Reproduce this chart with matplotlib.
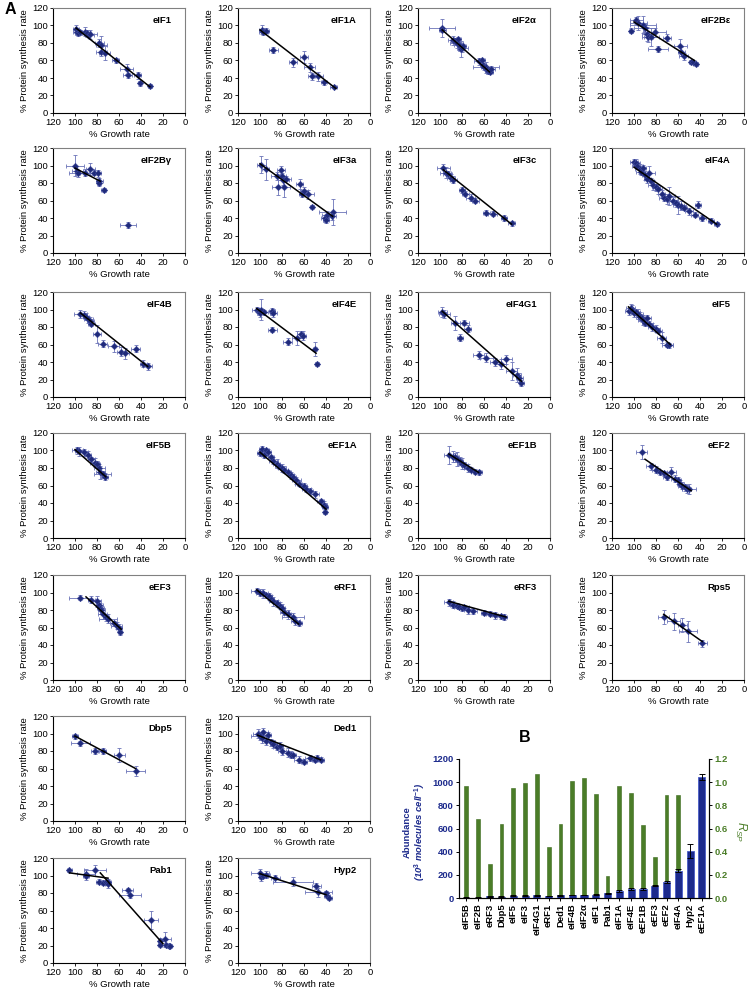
import matplotlib
matplotlib.use('Agg')
import matplotlib.pyplot as plt
import numpy as np

plt.rcParams['font.family'] = ['Liberation Sans', 'DejaVu Sans']
plt.rcParams['mathtext.fontset'] = 'custom'
plt.rcParams['mathtext.rm'] = 'Liberation Sans'
plt.rcParams['mathtext.it'] = 'Liberation Sans:italic'
plt.rcParams['mathtext.bf'] = 'Liberation Sans:bold'

# ---------------- Panel A data: (growth %, synthesis %, x error, y error) ----------------
eIF1_pts = [(99,96,3,5),(98,93,4,4),(97,91,3,3),(95,92,4,3),(91,93,5,5),(89,91,4,4),(87,89,4,3),
            (86,90,6,5),(78,80,4,5),(76,78,5,10),(76,70,5,5),(73,68,5,8),(63,60,3,3),(53,50,6,6),
            (52,43,4,3),(43,43,3,4),(41,34,2,3),(32,31,2,2)]
eIF1_fit = [[(99,97),(32,30)]]
eIF1A_pts = [(98,95,3,5),(97,93,4,4),(95,94,3,3),(88,72,4,3),(70,58,4,5),(60,64,4,7),(55,52,5,5),
             (53,42,3,4),(47,42,4,5),(42,35,3,3),(33,30,3,2)]
eIF1A_fit = [[(100,95),(31,28)]]
eIF2a_pts = [(98,97,12,10),(98,95,3,3),(88,83,5,5),(86,82,4,4),(85,80,6,6),(84,84,3,3),(83,78,4,6),
             (82,76,3,5),(81,73,3,9),(80,74,5,4),(79,76,3,3),(65,59,4,4),(62,60,3,3),(61,55,3,4),
             (60,53,3,4),(58,52,12,6),(57,50,3,3),(56,48,3,4),(55,47,3,3),(54,50,4,4)]
eIF2a_fit = [[(98,95),(55,47)]]
eIF2Be_pts = [(103,94,2,3),(98,106,6,4),(96,103,8,8),(92,101,12,10),(90,97,10,5),(88,90,5,8),
              (87,87,4,6),(85,87,8,10),(81,92,10,5),(78,73,9,3),(70,86,4,4),(58,77,6,7),(57,70,3,5),
              (55,65,4,4),(48,58,2,2),(46,58,2,2),(44,56,2,2)]
eIF2Be_fit = [[(100,104),(45,60)]]
eIF2Bg_pts = [(100,100,8,12),(98,94,5,5),(97,91,8,4),(91,92,4,4),(86,96,4,7),(83,92,3,3),(79,91,3,4),
              (78,82,3,4),(78,80,2,3),(74,72,2,2),(52,32,7,3)]
eIF2Bg_fit = [[(100,97),(77,82)]]
eIF3a_pts = [(99,101,4,10),(95,96,3,12),(85,88,5,5),(84,76,5,10),(81,95,4,5),(80,88,4,4),(79,83,5,5),
             (78,76,5,12),(76,85,4,3),(64,79,3,6),(62,68,3,4),(60,71,4,4),(56,67,5,5),(53,53,2,2),
             (41,40,4,4),(40,38,3,4),(39,44,5,4),(34,47,12,15),(35,42,4,4)]
eIF3a_fit = [[(100,102),(34,42)]]
eIF3c_pts = [(97,97,6,5),(95,92,5,6),(93,90,4,4),(90,86,4,4),(88,84,3,4),(80,72,3,3),(77,68,3,3),
             (72,63,4,4),(68,60,3,3),(58,46,3,3),(52,45,4,3),(42,40,3,3),(35,34,3,3)]
eIF3c_fit = [[(97,95),(35,33)]]
eIF4A_pts = [(100,104,4,3),(98,103,3,4),(97,100,5,4),(95,96,4,6),(94,93,4,4),(92,97,3,4),(90,89,3,5),
             (88,85,3,5),(86,91,5,8),(85,82,3,4),(83,78,4,6),(80,75,4,4),(78,73,3,5),(75,68,3,4),
             (73,63,4,4),(70,62,3,6),(68,65,5,10),(65,60,4,4),(62,57,3,4),(60,55,5,10),(57,54,4,5),
             (55,52,3,3),(50,48,4,4),(45,44,3,3),(42,55,3,4),(38,40,3,3),(30,37,3,3),(25,33,2,2)]
eIF4A_fit = [[(100,98),(25,33)]]
eIF4B_pts = [(95,95,6,5),(92,94,3,4),(90,92,3,4),(88,89,4,4),(86,87,3,4),(85,84,3,3),(80,72,4,10),
             (75,61,4,4),(65,58,5,6),(58,52,4,5),(55,50,4,6),(45,55,4,4),(38,38,3,4),(34,35,4,4)]
eIF4B_fit = [[(95,96),(34,35)]]
eIF4E_pts = [(103,100,4,3),(101,98,3,4),(100,96,3,5),(99,100,2,12),(96,97,3,3),(89,98,3,4),(88,96,3,5),
             (89,77,4,3),(75,63,4,4),(66,68,5,8),(63,72,3,4),(61,70,3,5),(50,55,2,8),(48,38,2,2)]
eIF4E_fit = [[(103,101),(49,50)]]
eIF4G1_pts = [(98,97,4,6),(96,95,5,5),(86,85,4,8),(82,68,3,4),(78,85,4,3),(75,78,3,4),(65,48,5,5),
              (58,45,6,5),(50,40,5,5),(45,38,5,6),(40,43,5,5),(35,30,5,10),(30,25,4,8),(28,22,3,5),
              (26,16,2,3)]
eIF4G1_fit = [[(98,98),(26,18)]]
eIF5_pts = [(105,98,3,4),(103,102,4,4),(102,100,3,5),(100,96,5,4),(98,97,3,3),(96,95,4,6),(95,92,3,5),
            (93,90,3,4),(92,88,4,6),(90,85,3,4),(88,90,3,4),(86,84,3,3),(84,80,3,5),(80,78,4,4),
            (78,76,3,3),(75,68,4,6),(70,60,5,3),(68,59,3,3)]
eIF5_fit = [[(105,103),(67,60)]]
eIF5B_pts = [(98,100,5,4),(96,99,4,5),(92,98,4,4),(88,95,3,4),(85,90,3,3),(82,86,4,5),(80,85,3,3),
             (78,80,5,5),(77,75,4,7),(75,73,8,4),(73,70,3,4)]
eIF5B_fit = [[(100,101),(72,70)]]
eEF1A_pts = [(100,97,3,3),(98,102,3,3),(96,95,3,4),(95,100,3,3),(93,98,3,4),(90,92,3,3),(88,88,4,4),
             (85,85,3,5),(83,82,3,3),(80,80,4,4),(78,78,3,4),(75,75,3,3),(72,72,3,4),(70,70,3,3),
             (67,66,4,4),(65,62,3,3),(60,60,3,3),(58,56,4,3),(55,54,3,3),(50,50,4,4),(45,42,3,3),
             (42,38,3,4),(41,35,3,5),(41,30,2,3)]
eEF1A_fit = [[(100,98),(40,33)]]
eEF1B_pts = [(92,95,4,10),(88,93,4,6),(86,92,3,5),(85,90,3,8),(82,88,3,5),(80,85,4,6),(78,83,3,4),
             (75,80,3,4),(72,78,3,3),(68,76,4,3),(65,75,3,3)]
eEF1B_fit = [[(92,96),(65,75)]]
eEF2_pts = [(93,98,5,8),(85,82,4,4),(80,78,4,4),(76,75,3,3),(73,74,3,3),(70,70,4,4),(66,76,4,5),
            (63,68,3,4),(60,66,3,4),(58,62,3,4),(56,60,4,4),(54,58,3,4),(52,56,4,5),(50,56,6,6)]
eEF2_fit = [[(90,90),(48,54)]]
eEF3_pts = [(95,94,10,3),(85,92,3,4),(80,90,4,6),(78,86,3,5),(77,82,3,6),(76,80,3,5),(75,76,4,6),
            (72,72,3,4),(70,70,8,5),(65,65,3,3),(62,62,5,4),(60,60,3,4),(59,55,2,4)]
eEF3_fit = [[(90,95),(58,58)]]
eRF1_pts = [(103,102,5,3),(100,100,4,4),(97,99,4,5),(95,97,3,3),(92,96,3,4),(90,93,3,4),(88,90,4,5),
            (85,88,3,4),(82,85,3,4),(80,82,3,5),(78,78,4,4),(75,75,3,5),(70,72,10,5),(68,67,4,4),
            (65,65,3,3)]
eRF1_fit = [[(103,103),(65,64)]]
eRF3_pts = [(92,89,4,4),(88,86,3,4),(85,85,3,3),(83,84,4,3),(80,82,3,3),(78,83,4,3),(75,80,3,4),
            (70,79,4,3),(60,77,3,3),(55,76,3,3),(50,74,3,4),(45,73,3,3),(42,72,3,3)]
eRF3_fit = [[(92,90),(40,72)]]
Rps5_pts = [(73,72,5,8),(64,67,6,10),(56,63,4,8),(51,56,8,12),(38,42,4,4)]
Rps5_fit = [[(73,75),(38,44)]]
Dbp5_pts = [(100,97,3,3),(95,89,9,3),(82,80,3,3),(75,80,3,3),(60,75,5,8),(45,57,9,6)]
Dbp5_fit = [[(100,97),(45,60)]]
Ded1_pts = [(102,100,4,5),(100,97,8,4),(98,95,3,6),(97,102,4,4),(95,92,3,5),(93,98,3,4),(90,90,4,4),
            (88,88,3,5),(85,85,3,4),(82,86,3,4),(80,80,4,4),(75,78,4,5),(72,76,3,4),(70,75,3,3),
            (65,70,4,4),(60,68,3,3),(55,72,4,3),(50,70,3,3),(48,72,3,3),(45,70,3,3)]
Ded1_fit = [[(102,98),(45,70)]]
Pab1_pts = [(105,106,2,2),(90,102,8,5),(90,99,3,4),(82,106,10,6),(78,93,3,3),(75,92,3,3),(72,93,4,4),
            (70,93,3,3),(70,90,3,4),(52,83,5,3),(50,78,10,4),(31,49,6,10),(23,25,2,4),(23,21,2,2),
            (18,27,5,9),(17,21,2,2),(15,19,2,2),(14,20,2,2)]
Pab1_fit = [[(105,103),(70,97)], [(77,103),(20,22)]]
Hyp2_pts = [(100,103,8,5),(99,98,2,4),(97,100,4,3),(95,101,4,4),(86,97,4,4),(70,93,18,5),(49,88,4,3),
            (47,81,12,5),(40,80,2,2),(39,77,3,3),(37,74,2,2)]
Hyp2_fit = [[(100,102),(40,78)]]

panel_rows = [
    [("eIF1", eIF1_pts, eIF1_fit), ("eIF1A", eIF1A_pts, eIF1A_fit),
     ("eIF2\u03b1", eIF2a_pts, eIF2a_fit), ("eIF2B\u03b5", eIF2Be_pts, eIF2Be_fit)],
    [("eIF2B\u03b3", eIF2Bg_pts, eIF2Bg_fit), ("eIF3a", eIF3a_pts, eIF3a_fit),
     ("eIF3c", eIF3c_pts, eIF3c_fit), ("eIF4A", eIF4A_pts, eIF4A_fit)],
    [("eIF4B", eIF4B_pts, eIF4B_fit), ("eIF4E", eIF4E_pts, eIF4E_fit),
     ("eIF4G1", eIF4G1_pts, eIF4G1_fit), ("eIF5", eIF5_pts, eIF5_fit)],
    [("eIF5B", eIF5B_pts, eIF5B_fit), ("eEF1A", eEF1A_pts, eEF1A_fit),
     ("eEF1B", eEF1B_pts, eEF1B_fit), ("eEF2", eEF2_pts, eEF2_fit)],
    [("eEF3", eEF3_pts, eEF3_fit), ("eRF1", eRF1_pts, eRF1_fit),
     ("eRF3", eRF3_pts, eRF3_fit), ("Rps5", Rps5_pts, Rps5_fit)],
    [("Dbp5", Dbp5_pts, Dbp5_fit), ("Ded1", Ded1_pts, Ded1_fit)],
    [("Pab1", Pab1_pts, Pab1_fit), ("Hyp2", Hyp2_pts, Hyp2_fit)],
]

# ---------------- Panel B data ----------------
B_cats = ["eIF5B", "eIF2B", "eRF3", "Dbp5", "eIF5", "eIF3", "eIF4G1", "eRF1", "Ded1", "eIF4B",
          "eIF2\u03b1", "eIF1", "Pab1", "eIF1A", "eIF4E", "eEF1B", "eEF3", "eEF2", "eIF4A", "Hyp2", "eEF1A"]
B_abundance = [3, 4, 14, 12, 20, 20, 23, 17, 23, 26, 26, 29, 40, 60, 77, 77, 106, 140, 237, 405, 1043]
B_abundance_err = [2, 2, 3, 3, 4, 4, 4, 4, 4, 4, 4, 5, 5, 6, 6, 6, 6, 8, 15, 62, 28]
B_rsp = [0.97, 0.68, 0.29, 0.64, 0.95, 0.99, 1.07, 0.44, 0.64, 1.01, 1.04, 0.90, 0.19, 0.97,
         0.91, 0.63, 0.35, 0.89, 0.89, 0.33, 1.00]

W, H = 748, 991
fig = plt.figure(figsize=(W / 100, H / 100), dpi=100)

def px_axes(left, top, width, height):
    return fig.add_axes([left / W, 1 - (top + height) / H, width / W, height / H])

col_left = [53, 238, 418, 612]
row_top = [8, 148, 292, 433, 575, 716, 858]
AW, AH = 132, 105

PT_C = '#1f2a7a'
ERR_C = '#6a73b8'
FS = 6.8

for r, row in enumerate(panel_rows):
    for c, (name, pts, fits) in enumerate(row):
        ax = px_axes(col_left[c], row_top[r], AW, AH)
        xs = [p[0] for p in pts]
        ys = [p[1] for p in pts]
        xe = [p[2] for p in pts]
        ye = [p[3] for p in pts]
        ax.errorbar(xs, ys, xerr=xe, yerr=ye, fmt='none', ecolor=ERR_C, elinewidth=0.6,
                    capsize=1.2, capthick=0.6, zorder=2)
        ax.plot(xs, ys, 'D', ms=3.2, color=PT_C, mec='#3a4596', mew=0.5, zorder=3)
        for (x0, y0), (x1, y1) in fits:
            ax.plot([x0, x1], [y0, y1], color='black', lw=1.1, zorder=4)
        ax.set_xlim(120, 0)
        ax.set_ylim(0, 120)
        ax.set_xticks(range(0, 121, 20))
        ax.set_yticks(range(0, 121, 20))
        ax.tick_params(labelsize=FS, length=2, width=0.6, pad=1.5)
        for s in ['top', 'right']:
            ax.spines[s].set_color('#808080')
        for s in ax.spines.values():
            s.set_linewidth(0.8)
        ax.set_xlabel("% Growth rate", fontsize=FS, labelpad=2)
        ax.set_ylabel("% Protein synthesis rate", fontsize=FS, labelpad=2)
        ax.text(0.9, 0.88, name, transform=ax.transAxes, ha='right', va='center',
                fontsize=FS, fontweight='bold')

fig.text(5 / W, 1 - 10 / H, "A", fontsize=11.5, fontweight='bold', ha='left', va='center')
fig.text(519 / W, 1 - 738 / H, "B", fontsize=11.5, fontweight='bold', ha='left', va='center')

# ---------------- Panel B ----------------
BLUE = '#1c2a8c'
GREEN = '#4b7d28'
axb = px_axes(459, 759, 250, 139)
axr = axb.twinx()
xpos = np.arange(len(B_cats))
axr.bar(xpos, B_rsp, width=0.32, color=GREEN, edgecolor='#3a6a1c', linewidth=0.4, zorder=1)
axb.bar(xpos, B_abundance, width=0.6, color=BLUE, edgecolor='#4a5cc8', linewidth=0.6,
        yerr=B_abundance_err, error_kw=dict(ecolor='black', elinewidth=0.7, capsize=2.5, capthick=0.7),
        zorder=2)
axb.set_zorder(axr.get_zorder() + 1)
axb.patch.set_visible(False)

axb.set_ylim(0, 1200)
axr.set_ylim(0, 1.2)
axb.set_xlim(-0.6, len(B_cats) - 0.4)
axb.set_yticks(range(0, 1201, 200))
axr.set_yticks([0.0, 0.2, 0.4, 0.6, 0.8, 1.0, 1.2])
axr.set_yticklabels([f"{v:.1f}" for v in [0.0, 0.2, 0.4, 0.6, 0.8, 1.0, 1.2]])
axb.set_xticks(xpos)
axb.set_xticklabels(B_cats, rotation=90, fontsize=FS, fontweight='bold')
axb.tick_params(axis='x', length=2.5, width=0.7, pad=1.5)
axb.tick_params(axis='y', labelsize=FS, length=2.5, width=0.7, pad=1.5)
axr.tick_params(axis='y', labelsize=FS, length=2.5, width=0.7, pad=1.5)
for lab in axb.get_yticklabels():
    lab.set_fontweight('bold')
for lab in axr.get_yticklabels():
    lab.set_fontweight('bold')
for a in (axb, axr):
    a.spines['top'].set_visible(False)
    for s in a.spines.values():
        s.set_linewidth(0.8)
axb.tick_params(axis='y', colors='black', labelcolor=BLUE)
axr.tick_params(axis='y', colors='black', labelcolor=GREEN)

fig.text(407 / W, 1 - 832 / H, "Abundance", rotation=90, ha='center', va='center',
         fontsize=FS, fontweight='bold', color=BLUE)
fig.text(420 / W, 1 - 832 / H, r"(10$^{\mathbf{3}}$ molecules cell$^{\mathbf{-1}}$)", rotation=90,
         ha='center', va='center', fontsize=FS, fontweight='bold', fontstyle='italic', color=BLUE)
fig.text(741 / W, 1 - 832 / H, r"$\mathit{R}_{\mathit{SP}}$", rotation=270, ha='center', va='center',
         fontsize=8.5, color=GREEN)

fig.savefig("out.png", dpi=100)
